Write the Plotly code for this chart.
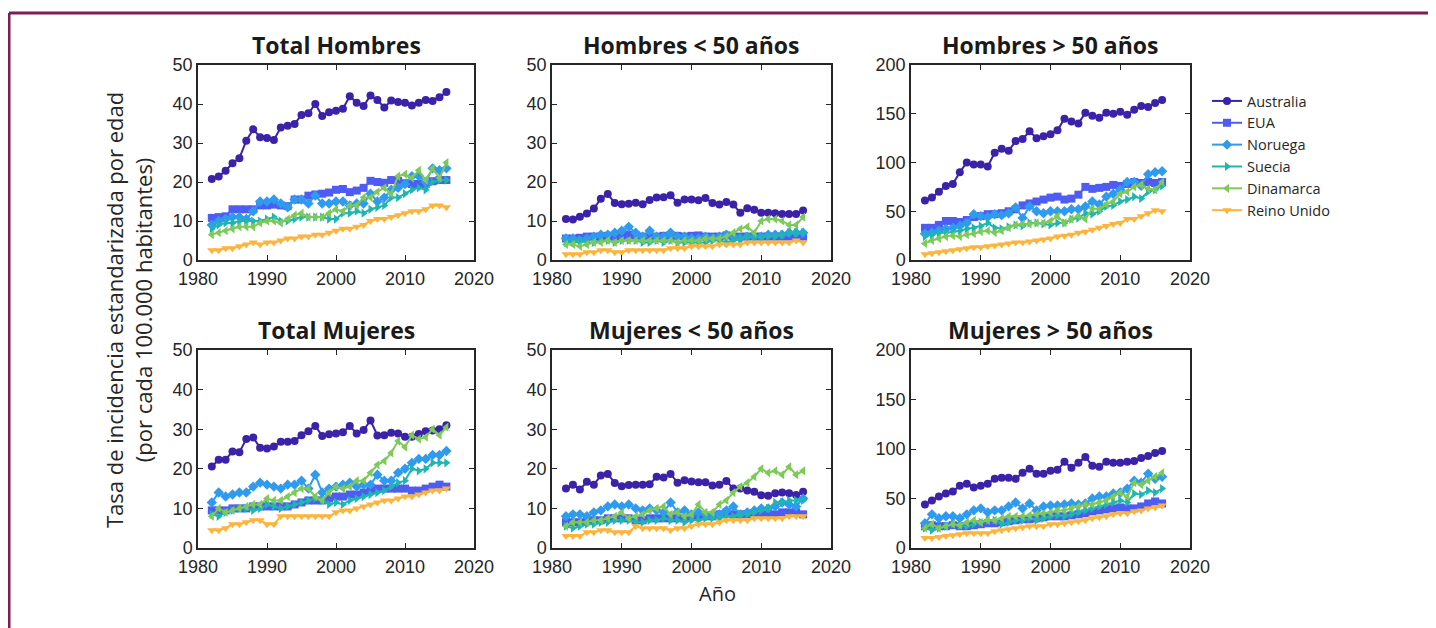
import plotly.graph_objects as go
from plotly.subplots import make_subplots

years = list(range(1982, 2017))

countries = ["Australia", "EUA", "Noruega", "Suecia", "Dinamarca", "Reino Unido"]
colors = ["#3B22A8", "#4F5CF2", "#2E9BEF", "#1FB5B0", "#7DC95A", "#FDB43C"]
symbols = ["circle", "square", "diamond", "triangle-right", "triangle-left", "triangle-down"]

panel_titles = ["Total Hombres", "Hombres < 50 años", "Hombres > 50 años",
                "Total Mujeres", "Mujeres < 50 años", "Mujeres > 50 años"]

# Total Hombres
total_hombres = {
    "Australia": [20.8, 21.4, 22.9, 24.8, 26.1, 30.6, 33.5, 31.5, 31.3, 30.8, 34.0, 34.4, 34.9, 37.2, 37.6,
                  40.0, 36.9, 37.9, 38.3, 38.8, 42.0, 40.3, 39.5, 42.2, 41.0, 39.1, 40.9, 40.5, 40.3, 39.6,
                  40.3, 41.0, 40.8, 41.7, 43.1],
    "EUA": [10.8, 11.0, 11.2, 13.0, 13.0, 13.0, 13.0, 14.0, 14.0, 14.2, 14.0, 13.8, 15.5, 15.5, 16.5, 16.8,
            17.0, 17.3, 18.0, 18.2, 17.4, 17.8, 18.5, 20.3, 20.0, 19.8, 20.5, 20.3, 19.7, 19.5, 19.5, 19.5,
            20.2, 20.5, 20.5],
    "Noruega": [9.0, 10.0, 10.5, 11.0, 11.0, 10.5, 12.5, 15.0, 15.0, 15.5, 14.5, 13.5, 15.5, 15.5, 14.5,
                16.5, 14.5, 14.5, 15.0, 15.0, 14.0, 14.5, 14.5, 17.0, 15.0, 16.0, 18.0, 18.5, 19.5, 21.5,
                21.5, 20.0, 23.5, 23.0, 23.5],
    "Suecia": [8.0, 9.0, 9.5, 9.5, 10.0, 10.0, 10.0, 10.0, 10.5, 11.0, 10.0, 10.0, 10.5, 11.0, 11.0, 11.0,
               11.0, 10.5, 10.5, 12.0, 12.0, 12.5, 12.0, 13.0, 13.5, 14.0, 16.0, 16.0, 17.0, 18.0, 18.5,
               18.0, 20.0, 20.5, 20.5],
    "Dinamarca": [6.5, 7.0, 7.5, 8.0, 8.5, 8.5, 8.5, 9.5, 10.0, 10.0, 9.5, 10.5, 11.5, 12.0, 11.0, 11.0,
                  11.0, 12.0, 13.0, 12.5, 14.0, 14.0, 16.0, 16.0, 17.5, 18.5, 17.0, 21.5, 22.0, 21.0, 23.0,
                  20.5, 23.5, 21.0, 25.0],
    "Reino Unido": [2.5, 2.5, 3.0, 3.0, 3.5, 4.0, 4.5, 4.0, 4.5, 4.5, 5.0, 5.5, 5.5, 6.0, 6.0, 6.5, 6.5,
                    7.0, 7.5, 8.0, 8.0, 8.5, 9.0, 10.0, 10.5, 10.5, 11.0, 11.5, 12.0, 12.5, 12.5, 13.0,
                    14.0, 14.0, 13.5],
}

# Hombres < 50 años
hombres_menor50 = {
    "Australia": [10.5, 10.4, 11.1, 11.9, 13.2, 15.7, 16.9, 14.6, 14.3, 14.4, 14.7, 14.3, 15.4, 16.0, 16.1,
                  16.6, 14.7, 15.5, 15.5, 15.3, 15.9, 14.6, 14.2, 14.9, 14.2, 12.1, 13.3, 12.9, 12.1, 12.1,
                  12.0, 11.8, 11.8, 11.8, 12.7],
    "EUA": [5.5, 5.5, 5.7, 6.0, 6.0, 6.0, 6.2, 6.0, 6.2, 6.5, 6.3, 6.0, 6.0, 6.0, 6.2, 6.3, 6.2, 6.0, 6.2,
            6.3, 6.0, 6.0, 6.0, 6.3, 6.0, 6.0, 6.0, 6.0, 6.0, 6.0, 6.0, 6.0, 6.0, 6.0, 6.0],
    "Noruega": [5.5, 5.5, 5.0, 5.5, 6.0, 6.5, 6.5, 7.0, 7.5, 8.5, 7.0, 6.0, 7.5, 6.0, 6.0, 7.0, 6.0, 6.0,
                5.5, 5.5, 6.0, 5.5, 6.0, 6.5, 6.0, 5.5, 6.0, 6.0, 6.0, 6.5, 6.5, 6.5, 7.0, 7.0, 7.0],
    "Suecia": [4.5, 4.5, 5.0, 4.5, 4.5, 5.0, 5.0, 4.5, 5.0, 5.0, 5.0, 4.5, 4.5, 5.0, 4.5, 5.0, 4.5, 4.5,
               4.5, 4.5, 4.5, 5.0, 5.0, 4.5, 5.0, 5.5, 6.0, 6.0, 6.0, 6.0, 6.0, 6.5, 7.0, 7.0, 7.0],
    "Dinamarca": [4.0, 4.0, 3.5, 4.0, 4.5, 4.5, 5.0, 4.5, 5.0, 5.0, 5.0, 5.0, 5.0, 5.0, 5.0, 5.0, 4.5, 5.0,
                  5.0, 5.0, 5.5, 5.5, 5.5, 6.0, 7.0, 8.0, 8.5, 7.0, 10.0, 10.5, 10.5, 10.0, 9.0, 9.0, 11.0],
    "Reino Unido": [1.5, 1.5, 1.5, 2.0, 2.0, 2.5, 2.5, 2.0, 2.0, 2.5, 2.5, 2.5, 2.5, 2.5, 2.5, 3.0, 3.0,
                    3.0, 3.5, 3.5, 3.5, 3.5, 4.0, 4.0, 4.0, 4.0, 4.5, 4.5, 4.5, 4.5, 4.5, 4.5, 4.5, 5.0, 4.5],
}

# Hombres > 50 años
hombres_mayor50 = {
    "Australia": [61, 64, 70, 76, 78, 90, 100, 98, 98, 96, 110, 114, 112, 122, 124, 132, 125, 127, 129, 133,
                  145, 142, 140, 151, 148, 146, 151, 150, 152, 149, 154, 158, 157, 161, 164],
    "EUA": [33, 33, 36, 40, 40, 39, 41, 44, 45, 47, 47, 48, 50, 52, 56, 58, 60, 62, 64, 65, 62, 63, 67, 75,
            73, 74, 75, 77, 76, 78, 80, 79, 80, 79, 80],
    "Noruega": [27, 28, 30, 32, 33, 35, 38, 47, 45, 44, 47, 46, 48, 54, 43, 55, 50, 48, 50, 50, 50, 52, 52,
                55, 60, 57, 65, 68, 72, 80, 80, 76, 88, 90, 91],
    "Suecia": [24, 26, 28, 28, 29, 30, 32, 33, 35, 38, 33, 32, 34, 36, 35, 38, 38, 37, 36, 38, 38, 42, 43,
               48, 47, 50, 55, 56, 60, 62, 65, 63, 70, 72, 76],
    "Dinamarca": [17, 20, 22, 24, 25, 24, 26, 27, 29, 30, 28, 30, 33, 36, 37, 37, 38, 38, 40, 45, 38, 42,
                  45, 42, 53, 52, 57, 60, 68, 70, 75, 77, 73, 72, 80],
    "Reino Unido": [6, 7, 8, 9, 10, 11, 12, 13, 13, 14, 15, 16, 17, 18, 18, 19, 20, 21, 22, 24, 25, 26, 28,
                    29, 31, 33, 35, 37, 38, 42, 42, 45, 48, 51, 50],
}

# Total Mujeres
total_mujeres = {
    "Australia": [20.6, 22.3, 22.3, 24.4, 24.2, 27.5, 27.9, 25.3, 25.1, 25.6, 26.8, 26.8, 27.0, 28.5, 29.5,
                  30.8, 28.3, 28.7, 28.9, 29.2, 30.8, 28.9, 29.8, 32.2, 28.4, 28.5, 29.1, 28.9, 28.1, 28.1,
                  28.8, 29.5, 29.7, 30.0, 31.0],
    "EUA": [9.5, 9.5, 9.5, 10.0, 10.0, 10.0, 10.5, 10.5, 10.5, 10.5, 10.5, 10.5, 11.0, 11.5, 12.0, 12.0,
            12.0, 12.5, 13.0, 13.0, 13.5, 13.5, 14.0, 14.5, 15.0, 15.0, 15.0, 15.0, 15.0, 14.5, 14.5,
            15.0, 15.5, 16.0, 15.5],
    "Noruega": [11.5, 14.0, 13.0, 13.5, 14.0, 14.0, 15.5, 16.5, 16.0, 15.5, 15.0, 16.0, 16.0, 17.0, 15.0,
                18.5, 14.0, 15.0, 15.5, 16.0, 16.5, 15.5, 16.0, 16.0, 18.5, 17.0, 17.0, 19.0, 20.0, 21.5,
                22.5, 22.5, 23.5, 23.5, 24.5],
    "Suecia": [8.5, 8.0, 9.0, 9.5, 10.0, 10.0, 9.5, 10.0, 11.0, 10.5, 10.0, 10.5, 11.0, 11.5, 12.0, 12.5,
               12.0, 11.0, 11.5, 11.0, 12.0, 12.5, 13.0, 13.5, 14.0, 14.5, 15.5, 16.5, 17.0, 20.0, 19.5,
               20.0, 21.5, 21.5, 21.5],
    "Dinamarca": [8.0, 10.0, 9.0, 9.5, 10.0, 10.5, 11.0, 11.0, 12.5, 12.0, 12.0, 13.0, 14.0, 15.0, 15.0,
                  13.0, 12.0, 14.0, 15.5, 15.0, 15.5, 17.0, 17.0, 19.0, 21.0, 22.0, 24.0, 27.0, 25.5, 28.5,
                  27.5, 28.0, 30.0, 28.5, 30.5],
    "Reino Unido": [4.5, 4.5, 5.0, 6.0, 6.0, 6.5, 7.0, 7.0, 6.0, 6.0, 8.0, 8.0, 8.0, 8.0, 8.0, 8.0, 8.0,
                    8.0, 9.0, 9.5, 9.5, 10.0, 10.5, 11.0, 11.5, 12.0, 12.0, 12.5, 13.0, 13.0, 13.5, 14.0,
                    14.5, 14.5, 15.0],
}

# Mujeres < 50 años
mujeres_menor50 = {
    "Australia": [15.0, 16.0, 14.8, 16.7, 16.0, 18.3, 18.7, 16.4, 15.6, 15.9, 16.0, 16.0, 16.1, 18.0, 17.8,
                  18.7, 16.5, 17.1, 16.8, 16.6, 16.6, 15.8, 16.0, 16.9, 15.0, 15.0, 14.5, 14.2, 13.3, 13.2,
                  13.8, 14.0, 13.8, 13.4, 14.2],
    "EUA": [6.5, 6.5, 6.5, 7.0, 7.0, 7.0, 7.5, 7.5, 7.5, 7.5, 7.0, 7.0, 7.5, 7.5, 7.5, 7.5, 7.5, 7.5, 8.0,
            8.0, 8.0, 8.0, 8.5, 9.0, 8.5, 8.5, 8.5, 8.5, 8.5, 8.5, 8.5, 9.0, 9.0, 9.0, 8.5],
    "Noruega": [8.0, 8.5, 8.5, 8.0, 9.0, 9.5, 10.5, 11.0, 10.5, 11.0, 10.0, 9.5, 10.0, 9.5, 9.0, 11.5, 9.0,
                9.5, 8.5, 9.0, 8.5, 8.5, 8.5, 9.5, 10.5, 8.5, 9.0, 9.5, 10.0, 10.0, 10.5, 11.5, 11.0, 10.5,
                12.5],
    "Suecia": [5.5, 5.0, 5.5, 6.0, 6.0, 6.5, 6.5, 7.0, 7.0, 7.0, 6.5, 6.5, 7.0, 7.0, 7.5, 7.0, 7.0, 6.5,
               7.0, 7.0, 7.5, 7.5, 7.5, 8.0, 8.0, 8.5, 8.5, 9.0, 9.5, 10.0, 11.5, 11.5, 12.0, 12.0, 12.0],
    "Dinamarca": [5.5, 6.5, 6.5, 6.5, 7.0, 7.0, 7.5, 8.0, 9.0, 7.5, 8.0, 8.5, 9.5, 10.0, 10.5, 8.5, 9.0,
                  8.0, 8.5, 11.0, 9.0, 9.0, 11.0, 12.0, 14.0, 15.5, 16.5, 18.0, 20.0, 19.0, 19.5, 18.5,
                  20.5, 18.5, 19.5],
    "Reino Unido": [3.0, 3.0, 3.0, 4.0, 4.0, 4.5, 4.5, 4.0, 4.0, 4.0, 5.5, 5.0, 5.0, 5.0, 5.0, 4.5, 5.0,
                    5.0, 5.5, 6.0, 6.0, 6.0, 6.5, 7.0, 7.0, 7.0, 7.0, 7.5, 7.5, 7.5, 7.5, 7.5, 8.0, 8.0,
                    8.0],
}

# Mujeres > 50 años
mujeres_mayor50 = {
    "Australia": [44, 48, 52, 55, 57, 63, 65, 61, 63, 65, 70, 71, 71, 70, 76, 80, 75, 75, 78, 79, 87, 81,
                  86, 92, 83, 82, 87, 86, 86, 87, 88, 91, 93, 96, 98],
    "EUA": [22, 23, 22, 22, 23, 22, 22, 23, 24, 25, 25, 26, 27, 28, 29, 29, 30, 31, 32, 32, 32, 33, 34, 35,
            37, 38, 39, 40, 41, 40, 40, 42, 45, 47, 45],
    "Noruega": [25, 34, 30, 32, 32, 30, 34, 38, 40, 36, 38, 38, 42, 46, 40, 45, 38, 42, 43, 43, 44, 45, 44,
                45, 50, 52, 52, 55, 56, 60, 68, 66, 75, 70, 72],
    "Suecia": [20, 18, 20, 22, 24, 22, 22, 24, 26, 28, 28, 24, 26, 28, 28, 30, 28, 30, 32, 33, 32, 34, 36,
               38, 40, 42, 44, 46, 48, 46, 55, 54, 58, 56, 60],
    "Dinamarca": [20, 24, 20, 22, 24, 23, 26, 28, 26, 28, 28, 30, 32, 32, 32, 33, 34, 35, 36, 38, 38, 40,
                  42, 44, 44, 46, 48, 52, 56, 52, 66, 64, 68, 72, 76],
    "Reino Unido": [10, 10, 11, 12, 13, 14, 15, 15, 15, 15, 17, 18, 19, 20, 21, 22, 22, 22, 24, 24, 25, 26,
                    27, 28, 30, 31, 32, 34, 35, 35, 37, 38, 40, 41, 43],
}

panels = [total_hombres, hombres_menor50, hombres_mayor50,
          total_mujeres, mujeres_menor50, mujeres_mayor50]
y_max = [50, 50, 200, 50, 50, 200]
y_step = [10, 10, 50, 10, 10, 50]

W, H = 1436, 628
OFF = 8  # page body margin


def px_x(p):
    return (p - OFF) / W


def px_y(p):
    return (H - (p - OFF)) / H


# pixel boxes of the six axes (left, right) / (top, bottom), page coordinates
x_px = [(198, 474), (552, 831), (911, 1190)]
y_px = [(65, 260), (350, 548)]

fig = make_subplots(rows=2, cols=3)

for i, data in enumerate(panels):
    row, col = i // 3 + 1, i % 3 + 1
    for k, name in enumerate(countries):
        fig.add_trace(go.Scatter(
            x=years, y=data[name], name=name, mode="lines+markers",
            line=dict(color=colors[k], width=2),
            marker=dict(symbol=symbols[k], size=8, color=colors[k]),
            showlegend=(i == 0), legendgroup=name,
        ), row=row, col=col)

axis_style = dict(showline=True, linecolor="#262626", linewidth=1.5, mirror="ticks", automargin=False,
                  ticks="inside", ticklen=5, tickcolor="#262626", showgrid=False, zeroline=False,
                  tickfont=dict(family="Liberation Sans, Arial", size=18, color="#262626"))

for i in range(6):
    r, c = i // 3, i % 3
    xd = [px_x(x_px[c][0]), px_x(x_px[c][1])]
    yd = [px_y(y_px[r][1]), px_y(y_px[r][0])]
    sfx = "" if i == 0 else str(i + 1)
    fig.layout["xaxis" + sfx].update(domain=xd, range=[1980, 2020], tickvals=[1980, 1990, 2000, 2010, 2020],
                                    ticklabelstandoff=2, **axis_style)
    fig.layout["yaxis" + sfx].update(domain=yd, range=[0, y_max[i]], dtick=y_step[i], **axis_style)
    fig.add_annotation(text="<b>" + panel_titles[i] + "</b>", xref="paper", yref="paper",
                       x=(xd[0] + xd[1]) / 2, y=yd[1] + 2 / H, xanchor="center", yanchor="bottom",
                       showarrow=False, font=dict(family="Open Sans", size=23, color="#1a1a1a"))

fig.add_annotation(text="Tasa de incidencia estandarizada por edad<br>(por cada 100.000 habitantes)",
                   xref="paper", yref="paper", x=px_x(128), y=px_y(310), textangle=-90,
                   xanchor="center", yanchor="middle",
                   showarrow=False, font=dict(family="Open Sans", size=22, color="#262626"))
fig.add_annotation(text="Año", xref="paper", yref="paper", x=px_x(717), y=px_y(593),
                   xanchor="center", yanchor="middle",
                   showarrow=False, font=dict(family="Open Sans", size=20, color="#262626"))

# maroon frame (top and left edges)
fig.add_shape(type="line", xref="paper", yref="paper", x0=px_x(9), x1=1.02, y0=px_y(13), y1=px_y(13),
              line=dict(color="#7A2050", width=3))
fig.add_shape(type="line", xref="paper", yref="paper", x0=px_x(9), x1=px_x(9), y0=px_y(13), y1=-0.03,
              line=dict(color="#7A2050", width=3))

fig.update_layout(
    width=W, height=H, autosize=False,
    margin=dict(l=0, r=0, t=0, b=0, pad=0),
    plot_bgcolor="white", paper_bgcolor="white",
    legend=dict(x=px_x(1207), y=px_y(85), xanchor="left", yanchor="top",
                font=dict(family="Open Sans", size=14.5, color="#262626"),
                tracegroupgap=0, itemwidth=30, bgcolor="rgba(0,0,0,0)"),
)

fig.write_html("out.html")
